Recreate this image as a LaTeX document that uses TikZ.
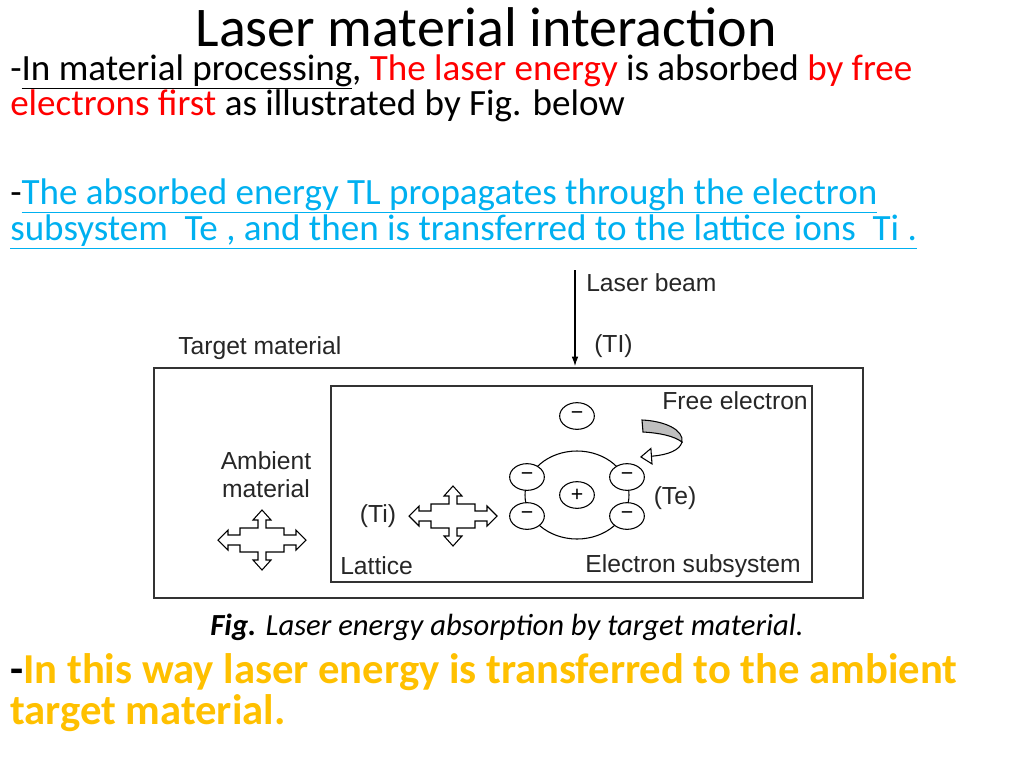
\documentclass[tikz,border=0pt]{standalone}
\usepackage{fontspec}
\setmainfont{Carlito}
\newfontfamily\arial{Liberation Sans}
\usetikzlibrary{arrows.meta, shapes.geometric}
\definecolor{hlblue}{RGB}{0,176,240}
\definecolor{hlgold}{RGB}{255,192,0}
\newcommand{\fourarrow}[2]{%
  \draw[line width=0.8pt, fill=white, shift={(#1,#2)}] (0,-30) -- (9,-20) -- (4,-20) -- (4,-12) -- (22,-12) -- (22,-5) -- (34,-5) -- (34,-10) -- (44,0) -- (34,10) -- (34,5) -- (22,5) -- (22,12) -- (4,12) -- (4,20) -- (9,20) -- (0,30) -- (-9,20) -- (-4,20) -- (-4,12) -- (-22,12) -- (-22,5) -- (-34,5) -- (-34,10) -- (-44,0) -- (-34,-10) -- (-34,-5) -- (-22,-5) -- (-22,-12) -- (-4,-12) -- (-4,-20) -- (-9,-20) -- cycle;}
\begin{document}
\begin{tikzpicture}[x=0.75pt, y=-0.75pt,
  body/.style={anchor=west, inner sep=0pt, font=\fontsize{27.8}{32}\selectfont},
  lbl/.style={inner sep=0pt, font=\arial\fontsize{18.5}{21}\selectfont, text=black!85},
  elec/.style={ellipse, draw, line width=0.8pt, minimum width=26, minimum height=20, inner sep=0pt, font=\arial\fontsize{16}{16}\selectfont, fill=white}]
\useasboundingbox (0,0) rectangle (1024,768);
\node[inner sep=0pt, font=\fontsize{42}{48}\selectfont] (title) at (486,27) {Laser material interaction};
\node[body] (l1) at (10,72) {-\underline{In material processing}, \textcolor{red}{The laser energy} is absorbed \textcolor{red}{by free}};
\node[body] (l2) at (10,106) {\textcolor{red}{electrons first} as illustrated by Fig. below};
\node[body] (l3) at (10,196) {-\textcolor{hlblue}{\underline{The absorbed energy TL propagates through the electron}}};
\node[body] (l4) at (10,232) {\textcolor{hlblue}{\underline{subsystem\ \ Te , and then is transferred to the lattice ions\ \ Ti .}}};
\node[inner sep=0pt, font=\fontsize{23}{26}\selectfont] (cap) at (507,627) {\textbf{\itshape Fig.} \itshape Laser energy absorption by target material.};
\node[body, font=\bfseries\fontsize{32}{36}\selectfont] (l5) at (10,672) {-\textcolor{hlgold}{In this way laser energy is transferred to the ambient}};
\node[body, font=\bfseries\fontsize{32}{36}\selectfont, text=hlgold] (l6) at (10,713) {target material.};
% diagram
\draw[line width=0.8pt, black!80] (154,368) rectangle (863,598);
\draw[line width=0.8pt, black!80] (331,386) rectangle (812,582);
\coordinate (beamtop) at (575,270);
\coordinate (beambot) at (575,366);
\draw[-{Latex[length=7pt,width=5pt]}, line width=0.8pt] (beamtop) -- (beambot);
\node[lbl, anchor=west] (beam) at (586,283) {Laser beam};
\node[lbl, anchor=west] (tl) at (594,346) {(TI)};
\node[lbl, anchor=west] (target) at (178,348) {Target material};
\node[lbl, align=center] (ambient) at (266,475) {Ambient\\material};
\fourarrow{262}{540}
\fourarrow{453}{516}
\node[lbl] (ti) at (378,516) {(Ti)};
\node[lbl, anchor=west] (lattice) at (340,566) {Lattice};
\node[lbl] (subsys) at (693,566) {Electron subsystem};
\node[lbl, anchor=east] (free) at (808,401) {Free electron};
\node[lbl] (te) at (675,498) {(Te)};
\draw[line width=0.8pt] (577,495) ellipse [x radius=52, y radius=44];
\node[elec] (plus) at (577,495) {+};
\node[elec] (e0) at (577,416) {\textminus};
\node[elec] (e1) at (527,477) {\textminus};
\node[elec] (e2) at (627,477) {\textminus};
\node[elec] (e3) at (527,516) {\textminus};
\node[elec] (e4) at (627,516) {\textminus};
\filldraw[line width=0.8pt, fill=black!25] (642,420) .. controls (665,421) and (684,430) .. (682,442) .. controls (674,436) and (660,433) .. (643,432) -- cycle;
\draw[line width=0.8pt, -{Triangle[open, length=9pt, width=13pt]}] (682,442) .. controls (680,450) and (668,455) .. (640,457);
\end{tikzpicture}
\end{document}
